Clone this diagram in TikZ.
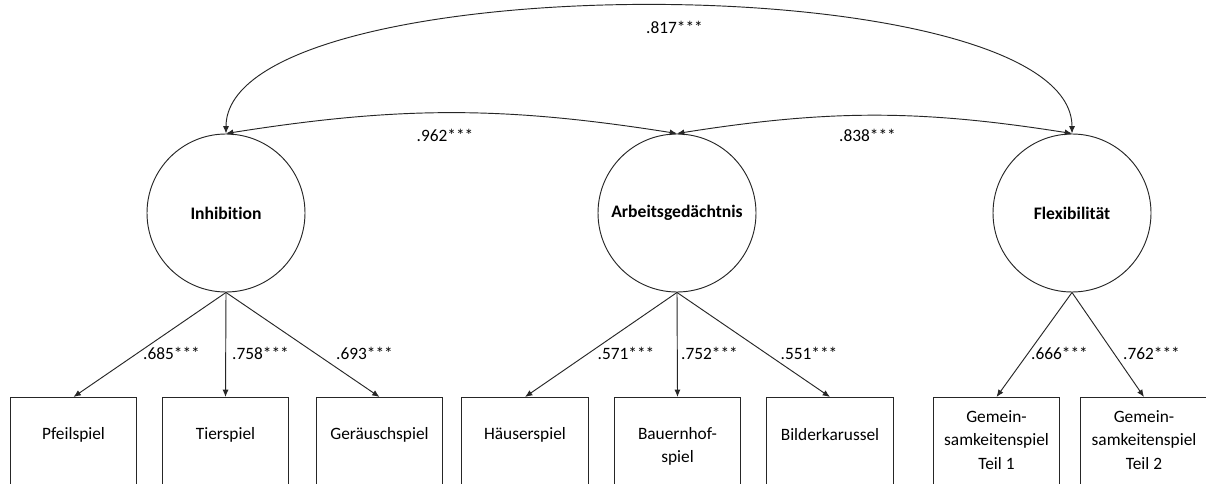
\documentclass[tikz,border=0pt]{standalone}
\usepackage{fontspec}
\setmainfont{Carlito}[Ligatures={NoCommon}]
\usetikzlibrary{arrows.meta,calc}
\tikzset{
  ln/.style={draw=black!85, line width=0.7pt},
  arr/.style={ln, -{Latex[length=5.5pt,width=4.5pt]}},
  darr/.style={ln, {Latex[length=5.5pt,width=4.5pt]}-{Latex[length=5.5pt,width=4.5pt]}},
  latent/.style={circle, draw=black!85, line width=0.7pt, minimum size=118.5pt, inner sep=0pt, font=\fontsize{13.2}{16}\selectfont\bfseries},
  obs/.style={rectangle, draw=black!85, line width=0.7pt, minimum width=95pt, minimum height=90pt, anchor=north, inner sep=0pt},
  obstext/.style={align=center, font=\fontsize{13}{17.4}\selectfont, inner sep=0pt},
  lab/.style={font=\fontsize{13}{16}\selectfont, inner sep=0pt}
}
\begin{document}
\begin{tikzpicture}[x=0.75pt,y=0.75pt]
\useasboundingbox (0,0) rectangle (1206,-484);
\fill[white] (0,0) rectangle (1206,-484);
% latent variables
\node[latent] (I) at (226,-213) {Inhibition};
\node[latent] (A) at (677,-213) {Arbeitsgedächtnis};
\node[latent] (F) at (1072,-213) {Flexibilität};
% observed boxes
\node[obs] (b1) at (73.5,-397) {};
\node[obs] (b2) at (225.5,-397) {};
\node[obs] (b3) at (379.5,-397) {};
\node[obs] (b4) at (525,-397) {};
\node[obs] (b5) at (677.5,-397) {};
\node[obs] (b6) at (830,-397) {};
\node[obs] (b7) at (996.5,-397) {};
\node[obs] (b8) at (1144,-397) {};
\node[obstext] (t1) at ($(b1.north)+(0,-38)$) {Pfeilspiel};
\node[obstext] (t2) at ($(b2.north)+(0,-38)$) {Tierspiel};
\node[obstext] (t3) at ($(b3.north)+(0,-38)$) {Geräuschspiel};
\node[obstext] (t4) at ($(b4.north)+(0,-38)$) {Häuserspiel};
\node[obstext] (t5) at ($(b5.north)+(0,-49.5)$) {Bauernhof-\\spiel};
\node[obstext] (t6) at ($(b6.north)+(0,-38)$) {Bilderkarussel};
\node[obstext] (t7) at ($(b7.north)+(0,-43)$) {Gemein-\\samkeitenspiel\\Teil 1};
\node[obstext] (t8) at ($(b8.north)+(0,-43)$) {Gemein-\\samkeitenspiel\\Teil 2};
% loadings
\draw[arr] (I.south) -- (b1.north);
\draw[arr] (I.south) -- (b2.north);
\draw[arr] (I.south) -- (b3.north);
\draw[arr] (A.south) -- (b4.north);
\draw[arr] (A.south) -- (b5.north);
\draw[arr] (A.south) -- (b6.north);
\draw[arr] (F.south) -- (b7.north);
\draw[arr] (F.south) -- (b8.north);
\node[lab] (l1) at (171.5,-353) {.685***};
\node[lab] (l2) at (260.5,-353) {.758***};
\node[lab] (l3) at (364.5,-353) {.693***};
\node[lab] (l4) at (626,-353) {.571***};
\node[lab] (l5) at (709.5,-353) {.752***};
\node[lab] (l6) at (809,-353) {.551***};
\node[lab] (l7) at (1059.5,-353) {.666***};
\node[lab] (l8) at (1151.5,-353) {.762***};
% correlations
\draw[darr] (I.north) to[bend left=9] (A.north);
\draw[darr] (A.north) to[bend left=9] (F.north);
\draw[darr] (I.north) to[out=90,in=90,looseness=0.515] (F.north);
\node[lab] (c1) at (445,-135) {.962***};
\node[lab] (c2) at (867.5,-135) {.838***};
\node[lab] (c3) at (674.5,-27) {.817***};
\end{tikzpicture}
\end{document}
